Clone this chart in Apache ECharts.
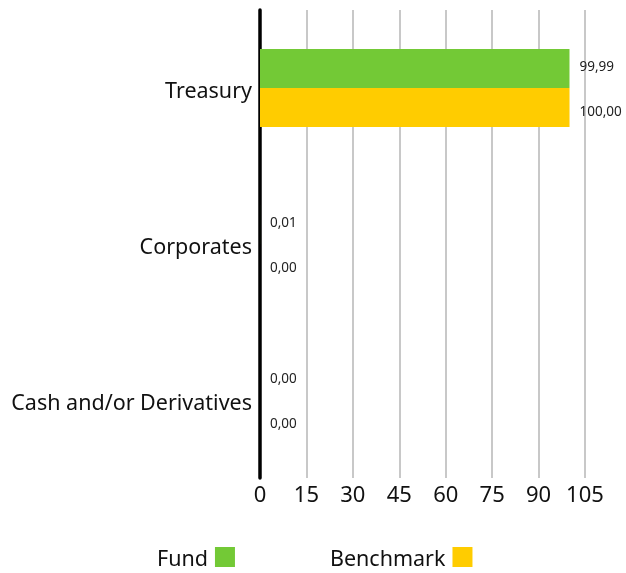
<!DOCTYPE html>
<html><head><meta charset="utf-8">
<script src="https://cdn.jsdelivr.net/npm/echarts@6/dist/echarts.min.js"></script>
<style>html,body{margin:0;padding:0;background:#fff}#c{width:626px;height:573px}</style>
</head><body><div id="c"></div>
<script>
const categories = ['Treasury', 'Corporates', 'Cash and/or Derivatives'];
const fundValues = [99.99, 0.01, 0.00];
const benchmarkValues = [100.00, 0.00, 0.00];
const xTicks = [0, 15, 30, 45, 60, 75, 90, 105];
const seriesNames = ['Fund', 'Benchmark'];

const FONT = '"Noto Sans", sans-serif';
const fmt = v => v.toFixed(2).replace('.', ',');
const chart = echarts.init(document.getElementById('c'), null, {renderer: 'canvas'});
const labelCfg = (dy) => ({
  show: true, position: 'right', distance: 10, offset: [0, dy],
  fontFamily: FONT, fontSize: 13.5, color: '#222',
  formatter: p => fmt(p.value)
});
chart.setOption({
  animation: false,
  grid: {left: 260, right: 41, top: 10, bottom: 95, containLabel: false},
  legend: {
    bottom: 2, left: 157, align: 'right', itemWidth: 20, itemHeight: 20, itemGap: 95,
    icon: 'rect', padding: 0,
    formatter: n => '{a|' + n + '}',
    textStyle: {
      fontFamily: FONT, fontSize: 21.5, color: '#111',
      rich: {a: {fontFamily: FONT, fontSize: 21.5, color: '#111', padding: [6, 2, 0, 0]}}
    },
    data: seriesNames
  },
  xAxis: {
    type: 'value', min: xTicks[0], max: xTicks[xTicks.length - 1], interval: 15,
    axisLine: {show: false}, axisTick: {show: false},
    axisLabel: {fontFamily: FONT, fontSize: 22, color: '#111', margin: 7},
    splitLine: {show: true, lineStyle: {color: '#c8c8c8', width: 2}}
  },
  yAxis: {
    type: 'category', data: categories, inverse: true,
    axisLine: {show: true, lineStyle: {color: '#000', width: 3.5}},
    axisTick: {show: false},
    axisLabel: {
      margin: 8,
      formatter: v => '{a|' + v + '}',
      rich: {a: {fontFamily: FONT, fontSize: 21.5, color: '#111', padding: [7, 0, 0, 0]}}
    }
  },
  series: [
    {name: seriesNames[0], type: 'bar', data: fundValues, barWidth: 39, barGap: '0%',
     itemStyle: {color: '#73C936'}, label: labelCfg(-1.5)},
    {name: seriesNames[1], type: 'bar', data: benchmarkValues, barWidth: 39, barGap: '0%',
     itemStyle: {color: '#FFCC00'}, label: labelCfg(4.5)}
  ]
});
</script></body></html>
